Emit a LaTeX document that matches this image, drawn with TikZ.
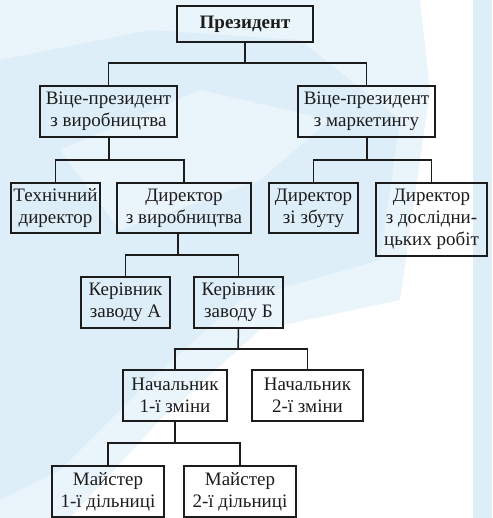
\documentclass[tikz,border=0pt]{standalone}
\usepackage{fontspec}
\setmainfont{Liberation Serif}
\begin{document}
\begin{tikzpicture}[x=1pt,y=-1pt,
  post/.style={draw=ink, line width=1.5pt, inner sep=0pt, align=center,
    text=ink, font=\fontsize{19}{22}\selectfont},
  link/.style={draw=ink, line width=1.5pt}]
\definecolor{ink}{HTML}{1C1C1C}
\definecolor{wash}{HTML}{DDEEF8}
\definecolor{washlight}{HTML}{EAF5FB}
% page and pale background pattern
\fill[white] (0,0) rectangle (492,518);
\useasboundingbox (0,0) rectangle (492,518);
\fill[washlight] (0,0) -- (420,0) -- (430,90) -- (400,300) -- (260,330)
  -- (160,420) -- (70,518) -- (0,518) -- cycle;
\fill[wash] (0,60) -- (150,30) -- (300,40) -- (400,120) -- (380,260)
  -- (240,300) -- (150,380) -- (60,470) -- (0,500) -- cycle;
\fill[washlight] (60,150) -- (200,90) -- (330,120) -- (260,180) -- (120,230) -- cycle;
\fill[wash] (473,0) rectangle (492,518);
% boxes
\node[post, minimum width=136pt, minimum height=36pt] (pres) at (245,24)
  {\textbf{Президент}};
\node[post, minimum width=137pt, minimum height=51pt] (vpv) at (108.5,111.5)
  {Віце-президент\\з виробництва};
\node[post, minimum width=137pt, minimum height=51pt] (vpm) at (366.5,111.5)
  {Віце-президент\\з маркетингу};
\node[post, minimum width=89pt, minimum height=50pt] (tech) at (55.5,208)
  {Технічний\\директор};
\node[post, minimum width=134pt, minimum height=50pt] (dirv) at (184,208)
  {Директор\\з виробництва};
\node[post, minimum width=89pt, minimum height=50pt] (dirz) at (313.5,208)
  {Директор\\зі збуту};
\node[post, minimum width=111pt, minimum height=73pt] (dird) at (431.5,219.5)
  {Директор\\з дослідни-\\цьких робіт};
\node[post, minimum width=89pt, minimum height=51pt] (kera) at (125.5,302.5)
  {Керівник\\заводу А};
\node[post, minimum width=89pt, minimum height=51pt] (kerb) at (238.5,302.5)
  {Керівник\\заводу Б};
\node[post, minimum width=104pt, minimum height=51pt] (nach1) at (175,395.5)
  {Начальник\\1-ї зміни};
\node[post, minimum width=111pt, minimum height=51pt] (nach2) at (307.5,395.5)
  {Начальник\\2-ї зміни};
\node[post, minimum width=112pt, minimum height=51pt] (m1) at (108,491.5)
  {Майстер\\1-ї дільниці};
\node[post, minimum width=112pt, minimum height=51pt] (m2) at (240,491.5)
  {Майстер\\2-ї дільниці};
% junction points
\coordinate (j1) at (245,63);
\coordinate (j2) at (109,160);
\coordinate (j3) at (367,160);
\coordinate (j4) at (178,255);
\coordinate (j5) at (238,349);
\coordinate (j6) at (175,443);
% connectors
\draw[link] (pres.south) -- (j1);
\draw[link] (vpv.north) |- (j1) -| (vpm.north);
\draw[link] (vpv.south -| j2) -- (j2);
\draw[link] (tech.north) |- (j2) -| (dirv.north);
\draw[link] (vpm.south -| j3) -- (j3);
\draw[link] (dirz.north) |- (j3) -| (dird.north);
\draw[link] (dirv.south -| j4) -- (j4);
\draw[link] (kera.north) |- (j4) -| (kerb.north);
\draw[link] (kerb.south) -- (j5);
\draw[link] (nach1.north) |- (j5) -| (nach2.north);
\draw[link] (nach1.south) -- (j6);
\draw[link] (m1.north) |- (j6) -| (m2.north);
\end{tikzpicture}
\end{document}
